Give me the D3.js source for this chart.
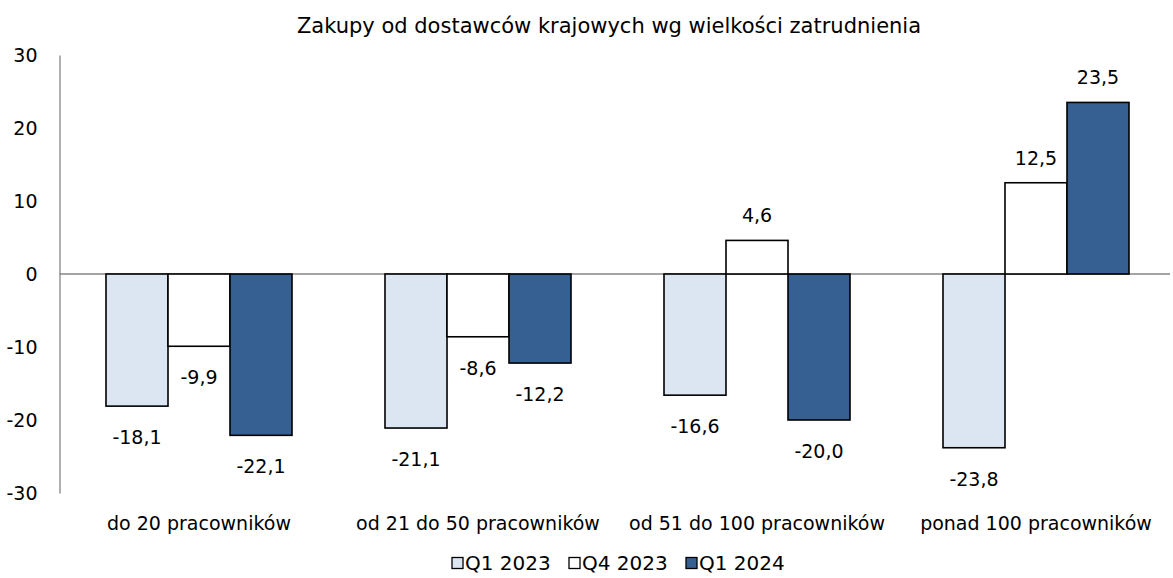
<!DOCTYPE html>
<html>
<head>
<meta charset="utf-8">
<script src="https://cdn.jsdelivr.net/npm/d3@7"></script>
<style>
  body { margin: 0; background: #fff; }
  text { font-family: "DejaVu Sans", Tahoma, sans-serif; fill: #000; }
</style>
</head>
<body>
<script>
const width = 1173;
const height = 578;
const margin = { top: 55, right: 3, bottom: 85, left: 59.5 };

const categories = ["do 20 pracowników", "od 21 do 50 pracowników", "od 51 do 100 pracowników", "ponad 100 pracowników"];
const seriesNames = ["Q1 2023", "Q4 2023", "Q1 2024"];
const q1_2023 = [-18.1, -21.1, -16.6, -23.8];
const q4_2023 = [-9.9, -8.6, 4.6, 12.5];
const q1_2024 = [-22.1, -12.2, -20.0, 23.5];
const yTicks = [-30, -20, -10, 0, 10, 20, 30];
const colors = ["#dce6f2", "#ffffff", "#366092"];

const seriesValues = [q1_2023, q4_2023, q1_2024];
const fmt = v => d3.format(".1f")(v).replace(".", ",").replace("\u2212", "-");

const svg = d3.select("body")
    .append("svg")
    .attr("width", width)
    .attr("height", height);

svg.append("text")
    .attr("x", 609)
    .attr("y", 33)
    .attr("text-anchor", "middle")
    .style("font-size", "21px")
    .text("Zakupy od dostawców krajowych wg wielkości zatrudnienia");

let xScale = d3.scaleBand()
    .domain(categories)
    .range([margin.left, 1175.5]);

let xInner = d3.scaleBand()
    .domain(seriesNames)
    .range([0, xScale.bandwidth()])
    .paddingInner(0)
    .paddingOuter(0.75);

let yScale = d3.scaleLinear()
    .domain([-30, 30])
    .range([493, 55]);

// y axis
let yAxis = d3.axisLeft(yScale)
    .tickValues(yTicks)
    .tickSize(0)
    .tickPadding(22)
    .tickFormat(d => String(d));

svg.append("g")
    .attr("transform", `translate(${margin.left}, 0)`)
    .call(yAxis)
    .call(g => g.select(".domain").attr("stroke", "#868686").attr("stroke-width", 1.3))
    .call(g => g.selectAll("text").style("font-size", "19px").style("font-family", "DejaVu Sans"));

// zero line
svg.append("line")
    .attr("x1", margin.left)
    .attr("x2", width - margin.right)
    .attr("y1", yScale(0))
    .attr("y2", yScale(0))
    .attr("stroke", "#868686")
    .attr("stroke-width", 1.3);

// category labels
svg.append("g")
    .selectAll("text")
    .data(categories)
    .enter()
    .append("text")
    .attr("x", d => xScale(d) + xScale.bandwidth() / 2)
    .attr("y", 530)
    .attr("text-anchor", "middle")
    .style("font-size", "19px")
    .text(d => d);

// bars
let flat = [];
seriesValues.forEach((vals, s) => {
    vals.forEach((v, i) => flat.push({ cat: categories[i], series: seriesNames[s], s: s, v: v }));
});

let groups = svg.append("g");

groups.selectAll("rect")
    .data(flat)
    .enter()
    .append("rect")
    .attr("x", d => xScale(d.cat) + xInner(d.series))
    .attr("y", d => yScale(Math.max(0, d.v)))
    .attr("width", xInner.bandwidth())
    .attr("height", d => Math.abs(yScale(d.v) - yScale(0)))
    .attr("fill", d => colors[d.s])
    .attr("stroke", "#000")
    .attr("stroke-width", 1.6);

groups.selectAll("text")
    .data(flat)
    .enter()
    .append("text")
    .attr("x", d => xScale(d.cat) + xInner(d.series) + xInner.bandwidth() / 2)
    .attr("y", d => d.v < 0 ? yScale(d.v) + 38 : yScale(d.v) - 18)
    .attr("text-anchor", "middle")
    .style("font-size", "19px")
    .text(d => fmt(d.v));

// legend
let legendX = [452, 569, 686];
let legend = svg.append("g")
    .selectAll("g")
    .data(seriesNames)
    .enter()
    .append("g")
    .attr("transform", (d, i) => `translate(${legendX[i]}, 563)`);

legend.append("rect")
    .attr("x", 0)
    .attr("y", -5.5)
    .attr("width", 11)
    .attr("height", 11)
    .attr("fill", (d, i) => colors[i])
    .attr("stroke", "#000")
    .attr("stroke-width", 1.3);

legend.append("text")
    .attr("x", 13)
    .attr("y", 7)
    .style("font-size", "20px")
    .text(d => d);
</script>
</body>
</html>
